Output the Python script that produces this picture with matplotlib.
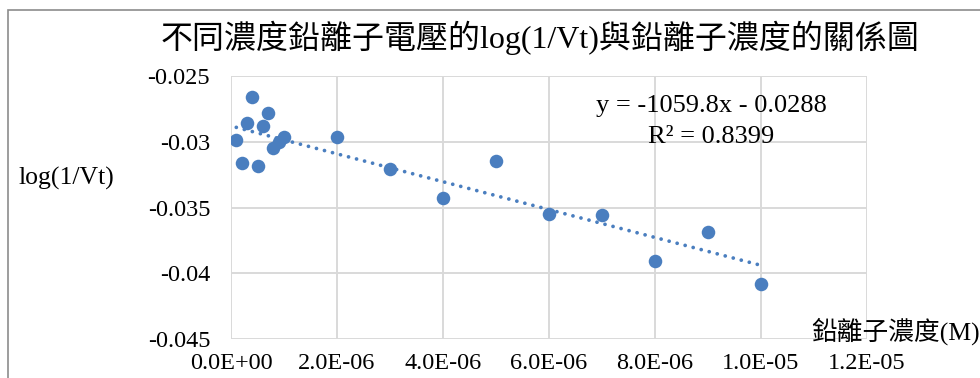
import matplotlib
matplotlib.use("Agg")
import matplotlib.pyplot as plt
import numpy as np
from matplotlib.patches import Rectangle

# Data
conc = [1e-7, 2e-7, 3e-7, 4e-7, 5e-7, 6e-7, 7e-7, 8e-7, 9e-7, 1e-6,
        2e-6, 3e-6, 4e-6, 5e-6, 6e-6, 7e-6, 8e-6, 9e-6, 1e-5]
logv = [-0.02987, -0.03164, -0.02860, -0.02662, -0.03184, -0.02880, -0.02784,
        -0.03050, -0.03002, -0.02964,
        -0.02962, -0.03210, -0.03430, -0.03149, -0.03549, -0.03555, -0.03907,
        -0.03686, -0.04084]
slope = -1059.8
intercept = -0.0288
xticks = [0, 2e-6, 4e-6, 6e-6, 8e-6, 1e-5, 1.2e-5]
xticklabels = ["0.0E+00", "2.0E-06", "4.0E-06", "6.0E-06", "8.0E-06", "1.0E-05", "1.2E-05"]
yticks = [-0.045, -0.04, -0.035, -0.03, -0.025]
yticklabels = ["-0.045", "-0.04", "-0.035", "-0.03", "-0.025"]
title = "不同濃度鉛離子電壓的log(1/Vt)與鉛離子濃度的關係圖"
xlabel = "鉛離子濃度(M)"
ylabel = "log(1/Vt)"
eq_text = "y = -1059.8x - 0.0288"
r2_text = "R² = 0.8399"

W, H = 980, 378
fig = plt.figure(figsize=(W / 100, H / 100), dpi=100)
fam = ["Liberation Serif", "Noto Sans CJK TC", "DejaVu Sans"]
plt.rcParams["font.family"] = fam

# outer chart frame
fig.patches.append(Rectangle((8 / W, -0.1), 2, 1 - 10 / H + 0.1, transform=fig.transFigure,
                             fill=False, edgecolor="#8c8c8c", linewidth=1.2))

ax = fig.add_axes([231 / W, 1 - 339 / H, (867 - 231) / W, (339 - 76) / H])
ax.set_xlim(0, 1.2e-5)
ax.set_ylim(-0.045, -0.025)
for s in ax.spines.values():
    s.set_visible(False)
ax.set_xticks(xticks)
ax.set_xticklabels(xticklabels)
ax.set_yticks(yticks)
ax.set_yticklabels(yticklabels)
ax.tick_params(length=0, labelsize=17.5, colors="#000000")
ax.tick_params(axis="y", pad=15)
ax.tick_params(axis="x", pad=10)
ax.grid(True, color="#d9d9d9", linewidth=1.4)
ax.set_axisbelow(True)

color = "#4a7ebf"
ax.scatter(conc, logv, s=95, color=color, zorder=3, linewidths=0)
xs = np.array([min(conc), max(conc)])
ax.plot(xs, slope * xs + intercept, linestyle=(0, (0.01, 2.2)), linewidth=2.7,
        color=color, dash_capstyle="round", zorder=2)

fig.text(540 / W, 1 - 38 / H, title, ha="center", va="center", fontsize=23, family=fam)
fig.text(66 / W, 1 - 178 / H, ylabel, ha="center", va="center", fontsize=18.5, family=fam)
fig.text(980 / W, 1 - 331 / H, xlabel, ha="right", va="center", fontsize=18.5, family=fam)
fig.text(711 / W, 1 - 106 / H, eq_text, ha="center", va="center", fontsize=19, family=fam)
fig.text(711 / W, 1 - 137 / H, r2_text, ha="center", va="center", fontsize=19, family=fam)

fig.savefig("out.png", dpi=100)
